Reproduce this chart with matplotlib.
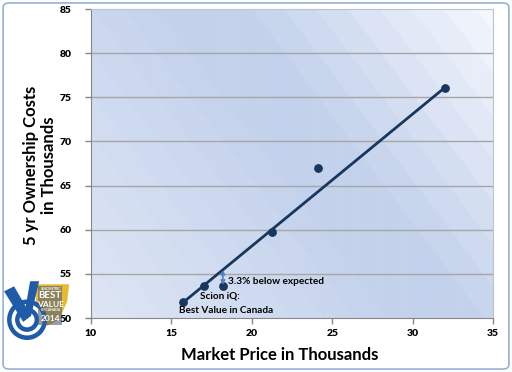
import numpy as np
import matplotlib.pyplot as plt
from matplotlib.patches import FancyBboxPatch, Polygon, Circle

# data
price = [15.75, 17.0, 18.2, 21.25, 24.1, 32.0]
ownership = [51.8, 53.6, 53.6, 59.7, 67.0, 76.1]
scion = 2  # index of the Scion iQ point
xticks = [10, 15, 20, 25, 30, 35]
yticks = [50, 55, 60, 65, 70, 75, 80, 85]

navy = '#17375e'
plt.rcParams['font.family'] = ['Lato', 'DejaVu Sans']

fig = plt.figure(figsize=(5.12, 3.72), dpi=100)
fig.patches.append(FancyBboxPatch((0.006, 0.008), 0.988, 0.984, boxstyle="round,pad=0,rounding_size=0.012",
                                  transform=fig.transFigure, fc='white', ec='#95b3d7', lw=1.2, zorder=-10))
ax = fig.add_axes([0.1777, 0.145, 0.7853, 0.8308])
ax.set_xlim(10, 35)
ax.set_ylim(50, 85)

# diagonal banded gradient behind the plot
gx, gy = np.meshgrid(np.linspace(10, 35, 400), np.linspace(85, 50, 310))
u = (gx - 10) * 16.06 - 0.75 * (85 - gy) * 8.83
u = np.floor(u / 32) * 32
dark = np.array([196, 210, 236]) / 255
lo = np.array([222, 230, 244]) / 255
hi = np.array([248, 250, 254]) / 255
t1 = np.clip((60 - u) / 300, 0, 1)[..., None]
t2 = np.clip((u - 140) / 260, 0, 1)[..., None]
img = dark + (lo - dark) * t1 + (hi - dark) * t2
ax.imshow(img, extent=[10, 35, 50, 85], aspect='auto', zorder=0)

for y in yticks[1:-1]:
    ax.axhline(y, color='#a6a6a6', lw=1, zorder=1)

ax.plot([price[0], price[-1]], [ownership[0], ownership[-1]], color=navy, lw=2, zorder=3)
ax.scatter(price, ownership, s=28, color=navy, zorder=4)

expected = ownership[0] + (price[scion] - price[0]) * (ownership[-1] - ownership[0]) / (price[-1] - price[0])
ax.annotate('', xy=(price[scion], expected), xytext=(price[scion], ownership[scion] + 0.15),
            arrowprops=dict(arrowstyle='<->', color='#4f81bd', lw=1.2, shrinkA=0, shrinkB=0,
                            mutation_scale=6), zorder=5)
ax.text(price[scion] + 0.35, 54.1, '3.3% below expected', fontsize=7.2, fontweight='bold', va='center', zorder=5)
ax.text(18.0, 52.45, 'Scion iQ:', fontsize=7.2, fontweight='bold', ha='center', va='center', zorder=5)
ax.text(18.4, 50.85, 'Best Value in Canada', fontsize=7.2, fontweight='bold', ha='center', va='center', zorder=5)

ax.set_xticks(xticks)
ax.set_yticks(yticks)
ax.tick_params(labelsize=7.5, length=4, color='#868686', width=1)
for lab in ax.get_xticklabels() + ax.get_yticklabels():
    lab.set_fontweight('heavy')
ax.tick_params(axis='x', pad=4)
ax.tick_params(axis='y', pad=10)
for s in ['top', 'right']:
    ax.spines[s].set_color('#b8c4d6')
for s in ['left', 'bottom']:
    ax.spines[s].set_color('#868686')

fig.text(0.547, 0.045, 'Market Price in Thousands', fontsize=12, fontweight='bold', ha='center', va='center')
fig.text(0.078, 0.555, '5 yr Ownership Costs\nin Thousands', fontsize=12, fontweight='bold',
         ha='center', va='center', rotation=90, linespacing=1.2)

# award badge, bottom left
lg = fig.add_axes([0.004, 0.086, 0.135, 0.158])
lg.set_xlim(0, 69)
lg.set_ylim(0, 58)
lg.axis('off')
blue = '#1f5ba8'
lg.add_patch(Polygon([[34, 55], [67, 55], [65, 38], [57, 20], [45, 14], [34, 28]], closed=True,
                     fc='#e8b830', ec='none'))
lg.add_patch(Circle((25, 20), 20, fc=blue, ec='none'))
lg.add_patch(Circle((25, 20), 15.5, fc='white', ec='none'))
lg.add_patch(Circle((25, 20), 12, fc=blue, ec='none'))
lg.add_patch(Circle((25, 20), 7.5, fc='white', ec='none'))
lg.add_patch(Polygon([[2, 48], [12, 53], [29, 24], [21, 18]], closed=True, fc=blue, ec='none'))
lg.add_patch(Polygon([[21, 18], [29, 24], [37, 58], [28, 58]], closed=True, fc=blue, ec='none'))
lg.add_patch(Polygon([[36, 53], [60, 53], [60, 15], [36, 15]], closed=True, fc='#4a5e78', ec='none', alpha=0.6))
lg.text(48, 50.5, 'VINCENTRIC', color='white', fontsize=2.5, fontweight='bold', ha='center', va='center')
lg.text(48, 44, 'BEST', color='white', fontsize=7, fontweight='bold', ha='center', va='center')
lg.text(48, 35.5, 'VALUE', color='white', fontsize=6, fontweight='bold', ha='center', va='center')
lg.text(48, 29.5, 'IN CANADA', color='white', fontsize=2.5, fontweight='bold', ha='center', va='center')
lg.text(48, 21.5, '2014', color='white', fontsize=6, fontweight='bold', ha='center', va='center')

fig.savefig('out.png', dpi=100)
